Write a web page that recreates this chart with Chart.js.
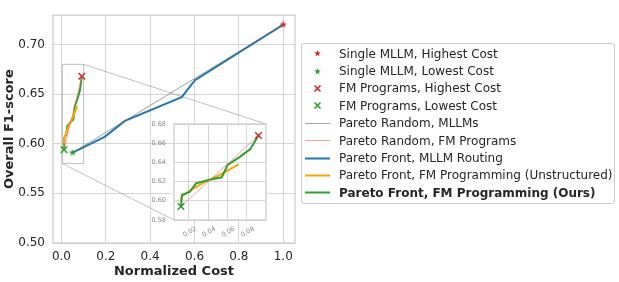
<!DOCTYPE html>
<html>
<head>
<meta charset="utf-8">
<title>Normalized Cost vs Overall F1-score</title>
<script src="https://cdn.jsdelivr.net/npm/chart.js@4.4.1/dist/chart.umd.min.js"></script>
<style>
  body { margin: 0; background: #fff; }
  #wrap { position: relative; width: 619px; height: 282px; font-family: 'DejaVu Sans', sans-serif; color: #262626; }
  #wrap canvas { position: absolute; left: 0; top: 0; }
  #legend { position: absolute; left: 301px; top: 43px; width: 314px; box-sizing: border-box; border: 1px solid #cccccc; border-radius: 3px; background: #fff; padding: 1px 0; font-size: 12px; }
  .row { display: flex; align-items: center; height: 17.4px; white-space: nowrap; }
  .row canvas { position: static !important; margin-left: 3px; margin-right: 9px; flex: none; }
  .row.bold { font-weight: bold; }
</style>
</head>
<body>
<div id="wrap">
  <canvas id="mainChart" width="619" height="282"></canvas>
  <canvas id="insetChart" width="619" height="282"></canvas>
  <div id="legend"></div>
</div>
<script>
// values (normalized cost, overall F1)
var mllmHighest = {x: 1.0, y: 0.720};
var mllmLowest = {x: 0.050, y: 0.591};
var progHighest = {x: 0.092, y: 0.668};
var progLowest = {x: 0.0117, y: 0.594};

var routingCost = [0.050, 0.195, 0.286, 0.542, 0.602, 1.0];
var routingF1 = [0.591, 0.607, 0.623, 0.647, 0.664, 0.720];

var unstructCost = [0.0117, 0.013, 0.023, 0.035, 0.052, 0.0714];
var unstructF1 = [0.600, 0.605, 0.612, 0.619, 0.627, 0.638];

var oursCost = [0.0117, 0.0127, 0.021, 0.0273, 0.0436, 0.054, 0.060, 0.0731, 0.0835, 0.092];
var oursF1 = [0.594, 0.606, 0.6094, 0.6182, 0.6224, 0.6245, 0.6374, 0.646, 0.6538, 0.668];

var mainXTicks = [0, 0.2, 0.4, 0.6, 0.8, 1.0];
var mainYTicks = [0.50, 0.55, 0.60, 0.65, 0.70];
var insetXTicks = [0.02, 0.04, 0.06, 0.08];
var insetYTicks = [0.58, 0.60, 0.62, 0.64, 0.66, 0.68];

var mainXRange = [-0.038, 1.053];
var mainYRange = [0.50, 0.7295];
var insetXRange = [0.0045, 0.0998];
var insetYRange = [0.58, 0.68];

var RED = '#d62728', GREEN = '#2ca02c', BLUE = '#1f77b4', ORANGE = '#ffa500';
var FONT = 'DejaVu Sans';
var TEXT = '#262626';
var GRID = '#d6d6d6';

function toPoints(xs, ys) {
  return xs.map(function(x, i) { return {x: x, y: ys[i]}; });
}

function starImage(color, r) {
  var s = Math.ceil(r * 2 + 2);
  var c = document.createElement('canvas');
  c.width = s;
  c.height = s;
  var ctx = c.getContext('2d');
  ctx.fillStyle = color;
  ctx.beginPath();
  for (var i = 0; i < 10; i++) {
    var rad = (i % 2 === 0) ? r : r * 0.4;
    var a = -Math.PI / 2 + i * Math.PI / 5;
    var px = s / 2 + rad * Math.cos(a);
    var py = s / 2 + rad * Math.sin(a);
    if (i === 0) ctx.moveTo(px, py); else ctx.lineTo(px, py);
  }
  ctx.closePath();
  ctx.fill();
  return c;
}

function markerSet(label, point, color, kind) {
  return {
    label: label,
    data: [point],
    showLine: false,
    pointStyle: kind === 'star' ? starImage(color, 4) : 'crossRot',
    pointRadius: 4.6,
    pointBorderWidth: 1.5,
    pointBorderColor: color,
    pointBackgroundColor: color,
    swatch: {kind: kind, color: color}
  };
}

function lineSet(label, points, color, width, bold) {
  return {
    label: label,
    data: points,
    showLine: true,
    borderColor: color,
    borderWidth: width,
    pointRadius: 0,
    tension: 0,
    swatch: {kind: 'line', color: color, width: width, bold: bold}
  };
}

function fmDatasets() {
  return [
    markerSet('FM Programs, Highest Cost', progHighest, RED, 'x'),
    markerSet('FM Programs, Lowest Cost', progLowest, GREEN, 'x'),
    lineSet('Pareto Random, FM Programs', [progLowest, progHighest], 'rgba(235,110,110,0.7)', 0.9),
    lineSet('Pareto Front, FM Programming (Ours)', toPoints(oursCost, oursF1), GREEN, 2, true),
    lineSet('Pareto Front, FM Programming (Unstructured)', toPoints(unstructCost, unstructF1), ORANGE, 2)
  ];
}

function fixedTicks(list) {
  return function(axis) {
    axis.ticks = list.map(function(v) { return {value: v}; });
  };
}

var framePlugin = {
  id: 'frame',
  beforeDraw: function(chart, args, opts) {
    if (opts.fill) {
      var a = chart.chartArea;
      chart.ctx.save();
      chart.ctx.fillStyle = '#ffffff';
      chart.ctx.fillRect(a.left, a.top, a.right - a.left, a.bottom - a.top);
      chart.ctx.restore();
    }
  },
  afterDraw: function(chart) {
    var a = chart.chartArea;
    var ctx = chart.ctx;
    ctx.save();
    ctx.strokeStyle = '#cccccc';
    ctx.lineWidth = 1.25;
    ctx.strokeRect(a.left, a.top, a.right - a.left, a.bottom - a.top);
    ctx.restore();
  }
};

// ---- inset ----
var insetChart = new Chart(document.getElementById('insetChart'), {
  type: 'scatter',
  data: {datasets: fmDatasets()},
  options: {
    responsive: false,
    animation: false,
    events: [],
    layout: {padding: {left: 144, right: 353, top: 124, bottom: 32}},
    plugins: {legend: {display: false}, tooltip: {enabled: false}, frame: {fill: true}},
    scales: {
      x: {
        type: 'linear', min: insetXRange[0], max: insetXRange[1],
        afterBuildTicks: fixedTicks(insetXTicks),
        afterFit: function(axis) { axis.height = 30; },
        grid: {color: GRID, lineWidth: 1, drawTicks: false},
        border: {display: false},
        ticks: {
          autoSkip: false, minRotation: 30, maxRotation: 30, padding: 5, labelOffset: 7,
          color: '#8a8a8a', font: {family: FONT, size: 6.5},
          callback: function(v) { return v.toFixed(2); }
        }
      },
      y: {
        type: 'linear', min: insetYRange[0], max: insetYRange[1],
        afterBuildTicks: fixedTicks(insetYTicks),
        afterFit: function(axis) { axis.width = 30; },
        grid: {color: GRID, lineWidth: 1, drawTicks: false},
        border: {display: false},
        ticks: {
          padding: 8, color: '#8a8a8a', font: {family: FONT, size: 6.5},
          callback: function(v) { return v.toFixed(2); }
        }
      }
    }
  },
  plugins: [framePlugin]
});

// zoom box on the main axes and the two connector lines to the inset
var insetMarkPlugin = {
  id: 'insetMark',
  beforeDatasetsDraw: function(chart) {
    var xs = chart.scales.x, ys = chart.scales.y;
    var l = xs.getPixelForValue(insetXRange[0]);
    var r = xs.getPixelForValue(insetXRange[1]);
    var t = ys.getPixelForValue(insetYRange[1]);
    var b = ys.getPixelForValue(insetYRange[0]);
    var ia = insetChart.chartArea;
    var ctx = chart.ctx;
    ctx.save();
    ctx.strokeStyle = 'rgba(128,128,128,0.5)';
    ctx.lineWidth = 1;
    ctx.strokeRect(l, t, r - l, b - t);
    ctx.beginPath();
    ctx.moveTo(r, t);
    ctx.lineTo(ia.right, ia.top);
    ctx.moveTo(l, b);
    ctx.lineTo(ia.left, ia.bottom);
    ctx.stroke();
    ctx.restore();
  }
};

// ---- main ----
var mainSets = [
  markerSet('Single MLLM, Highest Cost', mllmHighest, RED, 'star'),
  markerSet('Single MLLM, Lowest Cost', mllmLowest, GREEN, 'star')
].concat(fmDatasets().slice(0, 2)).concat([
  lineSet('Pareto Random, MLLMs', [mllmLowest, mllmHighest], 'rgba(110,110,110,0.8)', 0.8),
  fmDatasets()[2],
  lineSet('Pareto Front, MLLM Routing', toPoints(routingCost, routingF1), BLUE, 2),
  fmDatasets()[4],
  fmDatasets()[3]
]);

var mainChart = new Chart(document.getElementById('mainChart'), {
  type: 'scatter',
  data: {datasets: mainSets},
  options: {
    responsive: false,
    animation: false,
    events: [],
    layout: {padding: {left: 0, right: 324, top: 4, bottom: 0}},
    plugins: {legend: {display: false}, tooltip: {enabled: false}, frame: {fill: false}},
    scales: {
      x: {
        type: 'linear', min: mainXRange[0], max: mainXRange[1],
        afterBuildTicks: fixedTicks(mainXTicks),
        afterFit: function(axis) { axis.height = 39; },
        grid: {color: GRID, lineWidth: 1, drawTicks: false},
        border: {display: false},
        ticks: {padding: 7, color: TEXT, font: {family: FONT, size: 12}, callback: function(v) { return v.toFixed(1); }},
        title: {display: true, text: 'Normalized Cost', color: TEXT, font: {family: FONT, size: 13, weight: 'bold'}, padding: {top: 0, bottom: 3}}
      },
      y: {
        type: 'linear', min: mainYRange[0], max: mainYRange[1],
        afterBuildTicks: fixedTicks(mainYTicks),
        afterFit: function(axis) { axis.width = 53; },
        grid: {color: GRID, lineWidth: 1, drawTicks: false},
        border: {display: false},
        ticks: {padding: 8, color: TEXT, font: {family: FONT, size: 12}, callback: function(v) { return v.toFixed(2); }},
        title: {display: true, text: 'Overall F1-score', color: TEXT, font: {family: FONT, size: 13, weight: 'bold'}, padding: {top: 2, bottom: 0}}
      }
    }
  },
  plugins: [framePlugin, insetMarkPlugin]
});

// ---- legend (order as in the figure) ----
function drawSwatch(c, sw) {
  var ctx = c.getContext('2d');
  var cx = c.width / 2, cy = c.height / 2;
  if (sw.kind === 'line') {
    ctx.strokeStyle = sw.color;
    ctx.lineWidth = sw.width;
    ctx.beginPath();
    ctx.moveTo(0, cy);
    ctx.lineTo(c.width, cy);
    ctx.stroke();
  } else if (sw.kind === 'star') {
    var img = starImage(sw.color, 3.5);
    ctx.drawImage(img, Math.round(cx - img.width / 2), Math.round(cy - img.height / 2));
  } else {
    ctx.strokeStyle = sw.color;
    ctx.lineWidth = 1.6;
    ctx.beginPath();
    ctx.moveTo(cx - 3, cy - 3); ctx.lineTo(cx + 3, cy + 3);
    ctx.moveTo(cx + 3, cy - 3); ctx.lineTo(cx - 3, cy + 3);
    ctx.stroke();
  }
}

var legendOrder = [
  'Single MLLM, Highest Cost', 'Single MLLM, Lowest Cost',
  'FM Programs, Highest Cost', 'FM Programs, Lowest Cost',
  'Pareto Random, MLLMs', 'Pareto Random, FM Programs',
  'Pareto Front, MLLM Routing', 'Pareto Front, FM Programming (Unstructured)',
  'Pareto Front, FM Programming (Ours)'
];

var legend = document.getElementById('legend');
legendOrder.forEach(function(name) {
  var ds = mainChart.data.datasets.filter(function(d) { return d.label === name; })[0];
  var row = document.createElement('div');
  row.className = 'row' + (ds.swatch.bold ? ' bold' : '');
  var c = document.createElement('canvas');
  c.width = 25;
  c.height = 17;
  drawSwatch(c, ds.swatch);
  var span = document.createElement('span');
  span.textContent = name;
  row.appendChild(c);
  row.appendChild(span);
  legend.appendChild(row);
});
</script>
</body>
</html>
